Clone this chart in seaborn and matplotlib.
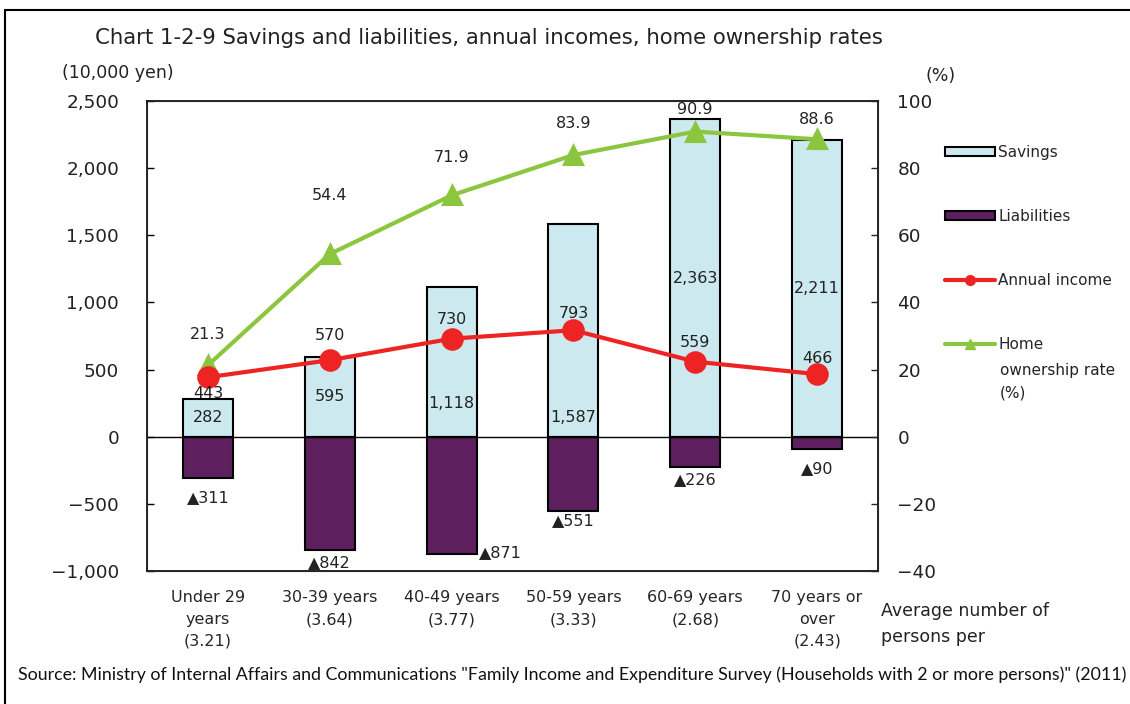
import numpy as np
import matplotlib
matplotlib.use('Agg')
import matplotlib.pyplot as plt
import seaborn as sns
from matplotlib.patches import Patch, Rectangle
from matplotlib.lines import Line2D
from matplotlib.ticker import FuncFormatter

# data
ages = ['Under 29\nyears\n(3.21)', '30-39 years\n(3.64)', '40-49 years\n(3.77)',
        '50-59 years\n(3.33)', '60-69 years\n(2.68)', '70 years or\nover\n(2.43)']
savings = [282, 595, 1118, 1587, 2363, 2211]
liabilities = [311, 842, 871, 551, 226, 90]
income = [443, 570, 730, 793, 559, 466]
ownership = [21.3, 54.4, 71.9, 83.9, 90.9, 88.6]

c_sav = '#cde9f0'
c_lia = '#5e1f5e'
c_inc = '#ee2424'
c_own = '#8cc63f'

sns.set_style('white')
plt.rcParams['font.family'] = ['DejaVu Sans']

fig = plt.figure(figsize=(11.3, 7.04), dpi=100)
W, H = 1130, 704
ax = fig.add_axes([147 / W, 1 - 571 / H, (878 - 147) / W, (571 - 101) / H])

sns.barplot(x=ages, y=savings, color=c_sav, saturation=1, width=0.41,
            edgecolor='black', linewidth=1.5, ax=ax)
sns.barplot(x=ages, y=[-v for v in liabilities], color=c_lia, saturation=1, width=0.41,
            edgecolor='black', linewidth=1.5, ax=ax)
ax.axhline(0, color='black', lw=1, zorder=1)
ax.set_ylim(-1000, 2500)
ax.set_yticks(np.arange(-1000, 2501, 500))
ax.yaxis.set_major_formatter(FuncFormatter(lambda v, p: f'{int(v):,}'.replace('-', '\u2212')))
ax.set_xlim(-0.5, 5.5)
ax.tick_params(axis='y', direction='in', length=5, width=1, labelsize=13.3, pad=20,
               colors='black', labelcolor='#222222')
ax.tick_params(axis='x', length=0, labelsize=11.5, pad=14)
for t in ax.get_xticklabels():
    t.set_linespacing(1.55)
ax.set_xlabel('')
for s in ax.spines.values():
    s.set_color('black')
    s.set_linewidth(1.2)

# right axis: home ownership rate
ax2 = ax.twinx()
sns.pointplot(x=ages, y=ownership, color=c_own, markers='^', markersize=13,
              linewidth=3, ax=ax2)
ax2.set_ylim(-40, 100)
ax2.set_yticks(np.arange(-40, 101, 20))
ax2.yaxis.set_major_formatter(FuncFormatter(lambda v, p: f'{int(v)}'.replace('-', '\u2212')))
ax2.set_xlim(-0.5, 5.5)
ax2.tick_params(axis='y', direction='in', length=5, width=1, labelsize=13.3, pad=14,
                labelcolor='#222222')
ax2.set_ylabel('')

# annual income on the left scale, drawn on top
ax3 = ax.twinx()
sns.pointplot(x=ages, y=income, color=c_inc, markers='o', markersize=14,
              linewidth=3, ax=ax3)
ax3.set_ylim(ax.get_ylim())
ax3.set_xlim(-0.5, 5.5)
ax3.axis('off')

# value labels
lab = dict(fontsize=11.5, color='#222222', ha='center', va='center')
sav_y = {2: 245, 3: 141}
for i, v in enumerate(savings):
    ax.text(i, sav_y.get(i, v / 2), f'{v:,}', **lab)
lia_off = [(0, -14), (0, -9), (35, 1), (0, -7), (0, -9), (0, -14)]
for i, v in enumerate(liabilities):
    ax.annotate(f'\u25b2{v}', (i, -v), xytext=lia_off[i], textcoords='offset points', **lab)
inc_off = [-12, 18, 14, 12, 14, 11]
for i, v in enumerate(income):
    ax3.annotate(f'{v}', (i, v), xytext=(0, inc_off[i]), textcoords='offset points', **lab)
own_off = [22, 42, 27, 23, 16, 14]
for i, v in enumerate(ownership):
    ax2.annotate(f'{v}', (i, v), xytext=(0, own_off[i]), textcoords='offset points', **lab)

# texts
fig.text(95 / W, 1 - 38 / H, 'Chart 1-2-9 Savings and liabilities, annual incomes, home ownership rates',
         fontsize=15.3, va='center', ha='left', color='#222222')
fig.text(62 / W, 1 - 73 / H, '(10,000 yen)', fontsize=12.5, va='center', ha='left', color='#222222')
fig.text(925 / W, 1 - 76 / H, '(%)', fontsize=12.5, va='center', ha='left', color='#222222')
fig.text(881 / W, 1 - 624 / H, 'Average number of\npersons per', fontsize=12.5, va='center',
         ha='left', linespacing=1.55, color='#222222')
fig.text(18 / W, 1 - 675 / H,
         'Source: Ministry of Internal Affairs and Communications "Family Income and Expenditure Survey '
         '(Households with 2 or more persons)" (2011)',
         fontsize=12.8, va='center', ha='left', family='Lato', color='#111111')

# legend
handles = [Patch(facecolor=c_sav, edgecolor='black', linewidth=1.5),
           Patch(facecolor=c_lia, edgecolor='black', linewidth=1.5),
           Line2D([], [], color=c_inc, lw=3, marker='o', markersize=7),
           Line2D([], [], color=c_own, lw=3, marker='^', markersize=7)]
fig.legend(handles, ['Savings', 'Liabilities', 'Annual income', 'Home'],
           loc='upper left', bbox_to_anchor=(945 / W, 1 - 145 / H), frameon=False,
           fontsize=11, handlelength=3.3, handleheight=0.6, handletextpad=0.2,
           labelspacing=3.2, borderpad=0, borderaxespad=0)
fig.text(1000 / W, 1 - 382 / H, 'ownership rate\n(%)', fontsize=11, va='center', ha='left',
         linespacing=1.6, color='#222222')

# outer frame
fig.add_artist(Rectangle((5 / W, -0.1), 1.2, 1.1 - 10 / H, transform=fig.transFigure,
                         fill=False, edgecolor='black', lw=1.5))

fig.savefig('out.png', dpi=100)
